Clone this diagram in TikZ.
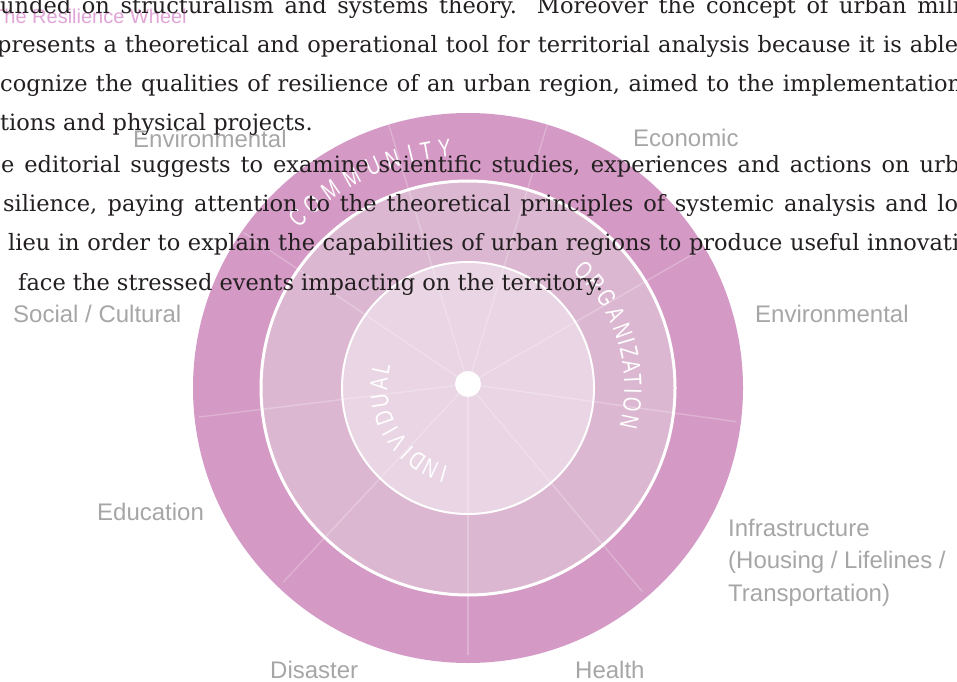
\documentclass[tikz,border=0pt]{standalone}
\usepackage{fontspec}
\usepackage{graphicx}
\setmainfont{DejaVu Serif}
\newfontfamily\lblfont{Liberation Sans}
\definecolor{ringA}{RGB}{212,153,196}
\definecolor{ringB}{RGB}{220,183,209}
\definecolor{ringC}{RGB}{233,213,227}
\definecolor{lblgray}{RGB}{166,166,166}
\definecolor{titlepink}{RGB}{224,164,214}
\definecolor{bodyink}{RGB}{35,31,32}
\tikzset{
  ringletter/.style={text=white, font=\lblfont\fontsize{25}{25}\selectfont, inner sep=0pt, anchor=center},
  spoke/.style={white, opacity=0.25, line width=1.4pt},
  lbl/.style={text=lblgray, font=\lblfont\fontsize{24}{33}\selectfont, inner sep=0pt, anchor=base west},
  bodyline/.style={text=bodyink, font=\fontsize{22.5}{39}\selectfont, inner sep=0pt, anchor=base west},
}
\begin{document}
\begin{tikzpicture}[x=1pt,y=1pt]
\useasboundingbox (0,0) rectangle (957,681);
\clip (0,0) rectangle (957,681);
\coordinate (ctr) at (468,293);
\coordinate (hub) at (468,297);
% rings
\fill[ringA] (ctr) circle[radius=275pt];
\fill[ringB] (ctr) circle[radius=207pt];
\fill[ringC] (ctr) circle[radius=126pt];
% spokes
\foreach \a [count=\i] in {270,310,352,30,73,107,146,187,227}
  \draw[spoke] (hub) -- ++(\a:271pt) coordinate (sp\i);
% white separators
\draw[white, line width=3pt] (ctr) circle[radius=207pt];
\draw[white, line width=2pt] (ctr) circle[radius=126pt];
\node[circle, fill=white, minimum size=26pt, inner sep=0pt] (dot) at (hub) {};
% ring texts
\foreach \l/\a [count=\i] in {C/135,O/130.3,M/124.8,M/118.9,U/113.2,N/108.2,I/103.8,T/100,Y/95.6}
  \path (ctr) ++(\a:241pt) node[ringletter, rotate=\a-90] (com\i) {\scalebox{0.75}[1]{\l}};
\foreach \l/\a [count=\i] in {O/45.5,R/39.3,G/32.9,A/26.5,N/20.3,I/16.3,Z/12.4,A/7.6,T/2.7,I/-1.3,O/-5.8,N/-12.0}
  \path (ctr) ++(\a:165pt) node[ringletter, rotate=\a-90] (org\i) {\scalebox{0.75}[1]{\l}};
\foreach \l/\a [count=\i] in {I/254,N/245,D/235,I/226.5,V/217.5,I/209,D/199.5,U/188.5,A/177.5,L/167.5}
  \path (ctr) ++(\a:89pt) node[ringletter, rotate=\a-90] (ind\i) {\scalebox{0.75}[1]{\l}};
% labels
\node[lbl] (envL) at (133,533) {Environmental};
\node[lbl] (econ) at (633,534) {Economic};
\node[lbl] (soc) at (13,359) {Social / Cultural};
\node[lbl] (envR) at (755,359) {Environmental};
\node[lbl] (edu) at (97,161) {Education};
\node[lbl] (infraA) at (728,145) {Infrastructure};
\node[lbl] (infraB) at (728,113) {(Housing / Lifelines /};
\node[lbl] (infraC) at (728,80) {Transportation)};
\node[lbl] (dis) at (270,3) {Disaster};
\node[lbl] (hea) at (575,3) {Health};
\node[font=\lblfont\fontsize{20}{20}\selectfont, text=titlepink, inner sep=0pt, anchor=base west] (title) at (-8,657) {The Resilience Wheel};
% body text
\node[bodyline] (t1) at (0,667) {\makebox[960pt][s]{unded on structuralism and systems theory. Moreover the concept of urban mili}};
\node[bodyline] (t2) at (-3,628) {\makebox[961pt][s]{presents a theoretical and operational tool for territorial analysis because it is able}};
\node[bodyline] (t3) at (0,589) {\makebox[962pt][s]{cognize the qualities of resilience of an urban region, aimed to the implementation}};
\node[bodyline] (t4) at (0,550) {tions and physical projects.};
\node[bodyline] (t5) at (1,508) {\makebox[958pt][s]{e editorial suggests to examine scientific studies, experiences and actions on urb}};
\node[bodyline] (t6) at (3,469) {\makebox[955pt][s]{silience, paying attention to the theoretical principles of systemic analysis and lo}};
\node[bodyline] (t7) at (8,430) {\makebox[951pt][s]{lieu in order to explain the capabilities of urban regions to produce useful innovati}};
\node[bodyline] (t8) at (18,391) {face the stressed events impacting on the territory.};
\end{tikzpicture}
\end{document}
